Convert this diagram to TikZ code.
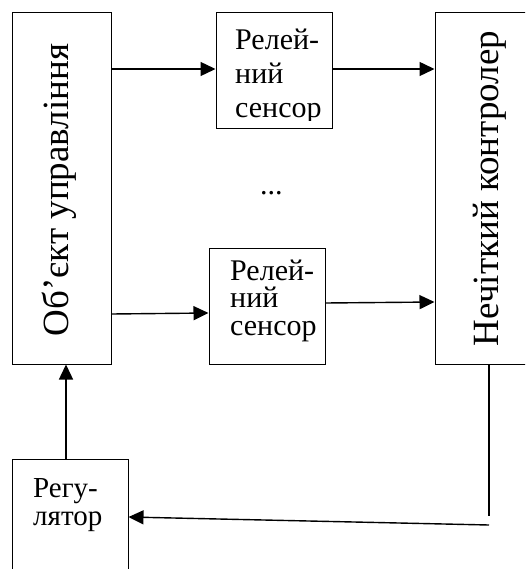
\documentclass[tikz,border=0pt]{standalone}
\usepackage{fontspec}
\setmainfont{Liberation Serif}
\usetikzlibrary{arrows.meta}
\begin{document}
\begin{tikzpicture}[x=1pt,y=-1pt,
  blk/.style={draw, rectangle, line width=1pt, inner sep=0pt},
  arr/.style={line width=1.4pt, -{Triangle[length=15pt,width=14pt]}},
  plain/.style={line width=1.4pt},
  big/.style={font=\fontsize{37}{42}\selectfont, inner sep=0pt},
  txt/.style={font=\fontsize{30}{34}\selectfont, inner sep=0pt, anchor=base west, text height=20pt, text depth=6pt},
  rtxt/.style={font=\fontsize{29}{34}\selectfont, inner sep=0pt, anchor=base west, text height=20pt, text depth=6pt}]
\clip (0,0) rectangle (525,569);
\fill[white] (0,0) rectangle (525,569);
% boxes
\node[blk, minimum width=99pt, minimum height=351pt] (obj) at (61.5,188.5) {};
\node[blk, minimum width=116pt, minimum height=116pt] (r1) at (274,71) {};
\node[blk, minimum width=116pt, minimum height=116pt] (r2) at (267,306) {};
\node[blk, minimum width=110pt, minimum height=351pt] (ctl) at (490,188.5) {};
\node[blk, minimum width=116pt, minimum height=140pt] (reg) at (70,529) {};
% texts
\node[big, rotate=90, anchor=base] (objt) at (68,190) {Об’єкт управління};
\node[big, rotate=90, anchor=base] (ctlt) at (498,188.5) {Нечіткий контролер};
\begin{scope}
\clip (216,13) rectangle (332,121);
\node[txt] (r1a) at (235,50) {Релей-};
\node[txt] (r1b) at (235,84) {ний};
\node[txt] (r1c) at (235,118) {сенсор};
\end{scope}
\node[txt] (r2a) at (230,280) {Релей-};
\node[txt] (r2b) at (230,307.5) {ний};
\node[txt] (r2c) at (230,335) {сенсор};
\node[rtxt] (rega) at (33,497) {Регу-};
\node[rtxt] (regb) at (33,525) {лятор};
\node[txt] (dots) at (260,195) {...};
% connectors
\draw[arr] ([yshift=2pt]obj.east |- r1.west) -- ([yshift=2pt]r1.west);
\draw[arr] ([yshift=2pt]r1.east) -- ([yshift=2pt]r1.east -| ctl.west);
\draw[arr] ([yshift=-8pt]obj.east |- r2.west) -- ([yshift=-7pt]r2.west);
\draw[arr] ([yshift=3pt]r2.east) -- ([yshift=4pt]r2.east -| ctl.west);
\draw[arr] ([xshift=-4pt]reg.north) -- ([xshift=-4pt]reg.north |- obj.south);
\coordinate (c1) at (489,516);
\coordinate (c2) at (489,525);
\draw[plain] (ctl.south -| c1) -- (c1);
\draw[arr] (c2) -- ([yshift=12pt]reg.east);
\end{tikzpicture}
\end{document}
